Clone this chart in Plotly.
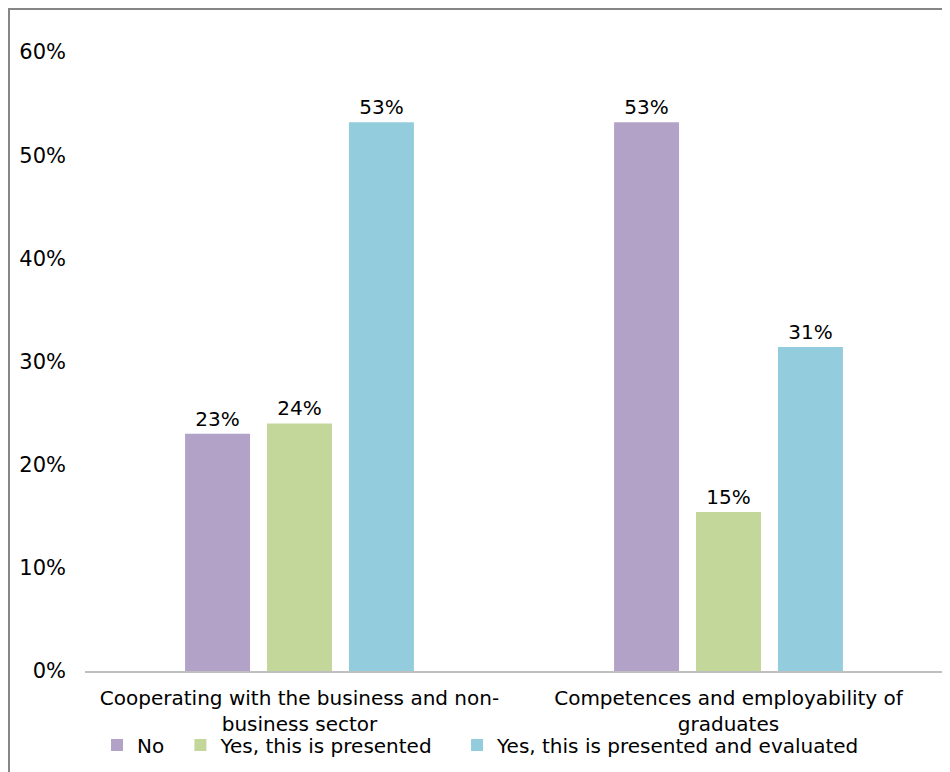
import plotly.graph_objects as go

# Chart data
categories = [
    "Cooperating with the business and non-<br>business sector",
    "Competences and employability of<br>graduates",
]
series_names = ["No", "Yes, this is presented", "Yes, this is presented and evaluated"]
no_vals = [0.23, 0.532]
presented_vals = [0.24, 0.154]
evaluated_vals = [0.532, 0.314]
y_ticks = [0, 0.1, 0.2, 0.3, 0.4, 0.5, 0.6]

colors = ["#B3A2C7", "#C4D79B", "#93CDDD"]
FONT = "DejaVu Sans, Verdana, sans-serif"

# one legend per series so the entries can be spaced like the original
legend_ids = ["legend", "legend2", "legend3"]
legend_x = [0.014, 0.1112, 0.4336]

fig = go.Figure()
for name, vals, col, lid in zip(series_names, [no_vals, presented_vals, evaluated_vals], colors, legend_ids):
    fig.add_trace(go.Bar(
        x=categories,
        y=vals,
        name=name,
        legend=lid,
        marker=dict(color=col, line=dict(width=0)),
        text=[f"{v:.0%}" for v in vals],
        textposition="outside",
        textfont=dict(color="black", size=20, family=FONT),
        cliponaxis=False,
    ))

legend_style = dict(
    orientation="h",
    xanchor="left",
    y=-0.1195,
    yanchor="middle",
    font=dict(size=20, family=FONT),
    bgcolor="rgba(0,0,0,0)",
)

fig.update_layout(
    width=942,
    height=764,
    margin=dict(l=77, r=7, t=44, b=101),
    paper_bgcolor="white",
    plot_bgcolor="white",
    font=dict(family=FONT, size=20, color="black"),
    barmode="group",
    bargap=0.427,
    bargroupgap=0.207,
    showlegend=True,
    legend=dict(x=legend_x[0], **legend_style),
    legend2=dict(x=legend_x[1], **legend_style),
    legend3=dict(x=legend_x[2], **legend_style),
    # outer chart frame (top and left edges)
    shapes=[dict(
        type="path",
        xref="paper",
        yref="paper",
        path="M -0.0886,-0.2 L -0.0886,1.0695 L 1.03,1.0695",
        line=dict(color="#868686", width=2),
    )],
)

fig.update_xaxes(
    showline=True,
    linecolor="#BFBFBF",
    linewidth=2,
    ticks="",
    showgrid=False,
    ticklabelstandoff=8,
    tickfont=dict(size=20, family=FONT),
)
fig.update_yaxes(
    range=[0, 0.6],
    tickvals=y_ticks,
    tickformat=".0%",
    showgrid=False,
    showline=False,
    zeroline=False,
    ticks="",
    ticklabelstandoff=18,
    tickfont=dict(size=21, family=FONT),
)

fig.write_html("out.html")
